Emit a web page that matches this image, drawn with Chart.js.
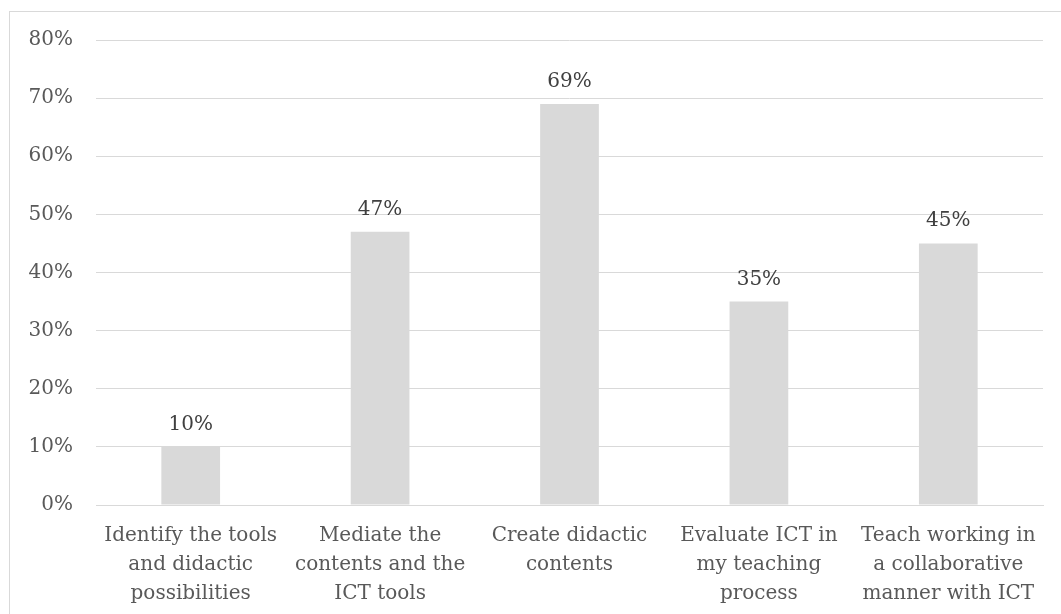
<!DOCTYPE html>
<html>
<head>
<meta charset="utf-8">
<script src="https://cdn.jsdelivr.net/npm/chart.js@4.4.1/dist/chart.umd.min.js"></script>
<style>
  html, body { margin: 0; padding: 0; background: #fff; overflow: hidden; }
  #frame { position: absolute; left: 9px; top: 11px; width: 1100px; height: 700px; border: 1px solid #d9d9d9; }
  #wrap { position: absolute; left: 0; top: 0; width: 1061px; height: 614px; }
</style>
</head>
<body>
<div id="frame"></div>
<div id="wrap"><canvas id="chart" width="1061" height="614"></canvas></div>
<script>
const categories = [
  ['Identify the tools', 'and didactic', 'possibilities'],
  ['Mediate the', 'contents and the', 'ICT tools'],
  ['Create didactic', 'contents'],
  ['Evaluate ICT in', 'my teaching', 'process'],
  ['Teach working in', 'a collaborative', 'manner with ICT']
];
const values = [10, 47, 69, 35, 45];
const yTicks = [0, 10, 20, 30, 40, 50, 60, 70, 80];

const serif = "'DejaVu Serif', 'Liberation Serif', serif";

// value labels above each bar
const barLabels = {
  id: 'barLabels',
  afterDatasetsDraw(chart) {
    const ctx = chart.ctx;
    const meta = chart.getDatasetMeta(0);
    ctx.save();
    ctx.font = '20px ' + serif;
    ctx.fillStyle = '#404040';
    ctx.textAlign = 'center';
    ctx.textBaseline = 'alphabetic';
    meta.data.forEach((bar, i) => {
      ctx.fillText(values[i] + '%', bar.x, bar.y - 17);
    });
    ctx.restore();
  }
};

new Chart(document.getElementById('chart').getContext('2d'), {
  type: 'bar',
  data: {
    labels: categories,
    datasets: [{
      data: values,
      backgroundColor: '#d9d9d9',
      borderWidth: 0,
      categoryPercentage: 1,
      barPercentage: 0.31
    }]
  },
  options: {
    responsive: false,
    animation: false,
    devicePixelRatio: 1,
    layout: { padding: { top: 40, right: 18, left: 20, bottom: 0 } },
    plugins: { legend: { display: false }, tooltip: { enabled: false } },
    scales: {
      x: {
        grid: { display: false },
        border: { display: true, color: '#d9d9d9', width: 1 },
        ticks: {
          maxRotation: 0,
          autoSkip: false,
          padding: 8,
          color: '#595959',
          font: { family: serif, size: 20, lineHeight: 1.45 }
        },
        afterFit(scale) { scale.height = 109; }
      },
      y: {
        min: 0,
        max: 80,
        afterBuildTicks(scale) { scale.ticks = yTicks.map(v => ({ value: v })); },
        grid: { color: '#d9d9d9', lineWidth: 1, drawTicks: false },
        border: { display: false },
        ticks: {
          padding: 23,
          color: '#595959',
          font: { family: serif, size: 20 },
          callback: v => v + '%'
        },
        afterFit(scale) { scale.width = 76; }
      }
    }
  },
  plugins: [barLabels]
});
</script>
</body>
</html>
